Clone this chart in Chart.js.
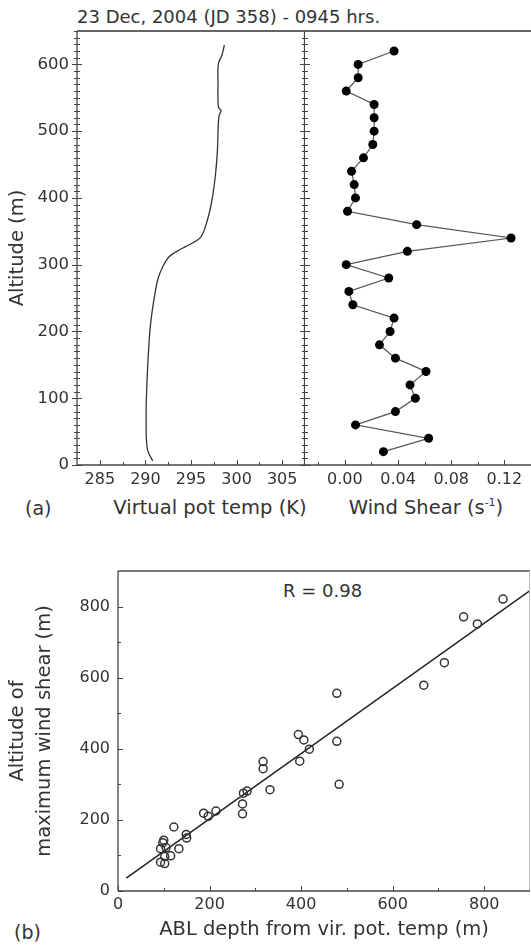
<!DOCTYPE html>
<html>
<head>
<meta charset="utf-8">
<script src="https://cdn.jsdelivr.net/npm/chart.js@4.4.1/dist/chart.umd.min.js"></script>
<style>
  body { margin: 0; background: #fff; width: 531px; height: 946px; position: relative; overflow: hidden;
         font-family: "DejaVu Sans", Verdana, sans-serif; color: #333; }
  .box { position: absolute; }
  .txt { position: absolute; white-space: nowrap; font-size: 18px; line-height: 18px; }
  .ax { position: absolute; white-space: nowrap; font-size: 19.5px; line-height: 20px; transform: translateX(-50%); }
  .ax sup { font-size: 11px; line-height: 0; vertical-align: 8px; }
</style>
</head>
<body>
<div class="txt" style="left:77px; top:8px;">23 Dec, 2004 (JD 358) - 0945 hrs.</div>
<div class="txt" style="left:25px; top:499px; font-size:19px;">(a)</div>
<div class="ax" style="left:210px; top:498px;">Virtual pot temp (K)</div>
<div class="ax" style="left:426px; top:498px;">Wind Shear (s<sup>-1</sup>)</div>
<div class="txt" style="left:14px; top:923px; font-size:19px;">(b)</div>
<div class="txt" style="left:283px; top:582px;">R = 0.98</div>

<div class="box" style="left:0; top:0; width:305px; height:530px;"><canvas id="tempChart"></canvas></div>
<div class="box" style="left:305px; top:0; width:226px; height:530px;"><canvas id="shearChart"></canvas></div>
<div class="box" style="left:0; top:540px; width:531px; height:406px;"><canvas id="ablChart"></canvas></div>

<script>
// (a) virtual potential temperature profile
const tempAlt = [6, 22, 42, 70, 97, 147, 202, 242, 277, 297, 312, 322, 327, 341, 367, 397, 437, 472, 512, 524, 531, 536, 571, 601, 614, 629];
const tempK = [290.8, 290.25, 290.1, 290.08, 290.1, 290.25, 290.5, 290.87, 291.34, 291.9, 292.6, 293.7, 294.4, 296.05, 296.8, 297.3, 297.7, 297.9, 298.0, 298.1, 298.3, 298.0, 297.96, 298.0, 298.4, 298.66];

// (a) wind shear profile
const shearAlt = [20, 40, 60, 80, 100, 120, 140, 160, 180, 200, 220, 240, 260, 280, 300, 320,
                  340, 360, 380, 400, 420, 440, 460, 480, 500, 520, 540, 560, 580, 600, 620];
const shear = [0.029, 0.063, 0.008, 0.038, 0.053, 0.049, 0.061, 0.038, 0.026, 0.034, 0.037, 0.006, 0.003, 0.033, 0.001, 0.047,
               0.125, 0.054, 0.002, 0.008, 0.007, 0.005, 0.014, 0.021, 0.022, 0.022, 0.022, 0.001, 0.010, 0.010, 0.037];

// (b) ABL depth vs altitude of max wind shear
const ablDepth = [93, 102, 102, 115, 93, 105, 98, 100, 133, 122, 149, 150, 187, 197, 214, 272, 272, 274, 282,
                  317, 317, 332, 397, 394, 406, 418, 478, 478, 483, 668, 713, 755, 785, 841];
const maxShearAlt = [81, 77, 97, 99, 119, 122, 136, 143, 119, 180, 159, 149, 219, 210, 225, 217, 245, 275, 281,
                     364, 344, 285, 365, 440, 425, 399, 556, 421, 300, 579, 642, 771, 751, 821];
const fitX = [18, 900];
const fitY = [36, 845];

// tick labels
const altTicks = [0, 100, 200, 300, 400, 500, 600];
const tempTicks = [285, 290, 295, 300, 305];
const shearTicks = [0, 0.04, 0.08, 0.12];
const ablTicks = [0, 200, 400, 600, 800];

function range(a, b, step) {
  const out = [];
  for (let v = a; v <= b + 1e-9; v += step) out.push(+v.toFixed(4));
  return out;
}

const font = { family: "'DejaVu Sans', Verdana, sans-serif", size: 16 };
const yFont = { family: "'DejaVu Sans', Verdana, sans-serif", size: 16.5 };
const titleFont = { family: "'DejaVu Sans', Verdana, sans-serif", size: 19.5 };
const ink = '#333';

// keep plot areas exactly where the axes are in the picture
const fixX = h => s => { s.height = h; s.paddingLeft = 0; s.paddingRight = 0; };
const fixY = w => s => { s.width = w; s.paddingTop = 0; s.paddingBottom = 0; };

// frame lines and small tick marks, placed through the chart scales
const frameTicks = {
  id: 'frameTicks',
  afterDatasetsDraw(chart, args, opts) {
    const { ctx, chartArea: a } = chart;
    ctx.save();
    ctx.strokeStyle = '#444';
    ctx.lineWidth = 1;
    for (const t of opts.ticks || []) {
      const sc = chart.scales[t.scale];
      ctx.beginPath();
      for (const v of t.values) {
        const p = Math.round(sc.getPixelForValue(v)) + 0.5;
        if (t.edge === 'left') { ctx.moveTo(a.left - t.out, p); ctx.lineTo(a.left + t.in, p); }
        if (t.edge === 'right') { ctx.moveTo(a.right + t.out, p); ctx.lineTo(a.right - t.in, p); }
        if (t.edge === 'bottom') { ctx.moveTo(p, a.bottom + t.out); ctx.lineTo(p, a.bottom - t.in); }
      }
      ctx.stroke();
    }
    for (const s of opts.sides || []) {
      ctx.strokeStyle = s.color;
      ctx.lineWidth = s.width;
      ctx.beginPath();
      if (s.side === 'top') { ctx.moveTo(a.left, a.top); ctx.lineTo(a.right, a.top); }
      if (s.side === 'bottom') { ctx.moveTo(a.left, a.bottom); ctx.lineTo(a.right, a.bottom); }
      if (s.side === 'left') { ctx.moveTo(a.left, a.top); ctx.lineTo(a.left, a.bottom); }
      if (s.side === 'right') { ctx.moveTo(a.right - 0.5, a.top); ctx.lineTo(a.right - 0.5, a.bottom); }
      ctx.stroke();
    }
    ctx.restore();
  }
};

const base = {
  responsive: true,
  maintainAspectRatio: false,
  animation: false,
  events: [],
  plugins: { legend: { display: false }, tooltip: { enabled: false } }
};

// left panel: temperature
new Chart(document.getElementById('tempChart'), {
  type: 'line',
  data: {
    datasets: [{
      data: tempK.map((t, i) => ({ x: t, y: tempAlt[i] })),
      borderColor: '#333', borderWidth: 1.3, pointRadius: 0, tension: 0.3, fill: false
    }]
  },
  options: {
    ...base,
    layout: { autoPadding: false, padding: { top: 31, left: 0, right: 0, bottom: 0 } },
    scales: {
      x: {
        type: 'linear', min: 282.5, max: 307.5,
        afterBuildTicks: s => { s.ticks = tempTicks.map(v => ({ value: v })); },
        afterFit: fixX(65),
        ticks: { font, color: ink, padding: 5, maxRotation: 0, autoSkip: false },
        grid: { display: false, drawTicks: false },
        border: { display: false }
      },
      y: {
        type: 'linear', min: 0, max: 650,
        afterBuildTicks: s => { s.ticks = altTicks.map(v => ({ value: v })); },
        afterFit: fixY(77),
        ticks: { font: yFont, color: ink, padding: 8, autoSkip: false },
        grid: { display: false, drawTicks: false },
        border: { display: false },
        title: { display: true, text: 'Altitude (m)', font: titleFont, color: ink, padding: { top: 6, bottom: 0 } }
      }
    },
    plugins: {
      ...base.plugins,
      frameTicks: {
        ticks: [
          { scale: 'y', values: range(0, 650, 10), edge: 'left', in: 3, out: 3 },
          { scale: 'y', values: altTicks, edge: 'left', in: 5, out: 5 },
          { scale: 'y', values: range(0, 650, 10), edge: 'right', in: 3, out: 0 },
          { scale: 'y', values: altTicks, edge: 'right', in: 5, out: 0 },
          { scale: 'x', values: tempTicks, edge: 'bottom', in: 5, out: 0 },
          { scale: 'x', values: range(287.5, 302.5, 5), edge: 'bottom', in: 3, out: 0 }
        ],
        sides: [
          { side: 'top', color: '#666', width: 2 },
          { side: 'left', color: '#444', width: 1.3 },
          { side: 'bottom', color: '#444', width: 1.3 },
          { side: 'right', color: '#444', width: 1.3 }
        ]
      }
    }
  },
  plugins: [frameTicks]
});

// right panel: wind shear
new Chart(document.getElementById('shearChart'), {
  type: 'line',
  data: {
    datasets: [{
      data: shear.map((w, i) => ({ x: w, y: shearAlt[i] })),
      borderColor: '#555', borderWidth: 1.2, tension: 0, fill: false,
      pointRadius: 4.5, pointBackgroundColor: '#000', pointBorderColor: '#000', pointBorderWidth: 0
    }]
  },
  options: {
    ...base,
    layout: { autoPadding: false, padding: { top: 31, left: 0, right: 0, bottom: 0 } },
    scales: {
      x: {
        type: 'linear', min: -0.03, max: 0.14,
        afterBuildTicks: s => { s.ticks = shearTicks.map(v => ({ value: v })); },
        afterFit: fixX(65),
        ticks: { font, color: ink, padding: 5, maxRotation: 0, autoSkip: false, callback: v => v.toFixed(2) },
        grid: { display: false, drawTicks: false },
        border: { display: false }
      },
      y: { type: 'linear', min: 0, max: 650, display: false }
    },
    plugins: {
      ...base.plugins,
      frameTicks: {
        ticks: [
          { scale: 'y', values: range(0, 650, 10), edge: 'left', in: 3, out: 0 },
          { scale: 'y', values: altTicks, edge: 'left', in: 5, out: 0 },
          { scale: 'x', values: shearTicks, edge: 'bottom', in: 5, out: 0 },
          { scale: 'x', values: [-0.02, 0.02, 0.06, 0.10], edge: 'bottom', in: 3, out: 0 }
        ],
        sides: [
          { side: 'top', color: '#666', width: 2 },
          { side: 'bottom', color: '#444', width: 1.3 }
        ]
      }
    }
  },
  plugins: [frameTicks]
});

// (b) scatter with fit
new Chart(document.getElementById('ablChart'), {
  type: 'scatter',
  data: {
    datasets: [
      {
        data: ablDepth.map((d, i) => ({ x: d, y: maxShearAlt[i] })),
        pointRadius: 4, pointBorderWidth: 1.5, pointBorderColor: '#333', pointBackgroundColor: 'rgba(255,255,255,0)'
      },
      {
        data: fitX.map((d, i) => ({ x: d, y: fitY[i] })),
        showLine: true, borderColor: '#222', borderWidth: 1.5, pointRadius: 0
      }
    ]
  },
  options: {
    ...base,
    layout: { autoPadding: false, padding: { top: 31, left: 0, right: 1, bottom: 0 } },
    scales: {
      x: {
        type: 'linear', min: 0, max: 900,
        afterBuildTicks: s => { s.ticks = ablTicks.map(v => ({ value: v })); },
        afterFit: fixX(55),
        ticks: { font, color: ink, padding: 4, maxRotation: 0, autoSkip: false },
        grid: { display: false, drawTicks: false },
        border: { display: false },
        title: { display: true, text: 'ABL depth from vir. pot. temp (m)', font: titleFont, color: ink, padding: { top: 0, bottom: 4 } }
      },
      y: {
        type: 'linear', min: 0, max: 900,
        afterBuildTicks: s => { s.ticks = ablTicks.map(v => ({ value: v })); },
        afterFit: fixY(118),
        ticks: { font, color: ink, padding: 8, autoSkip: false },
        grid: { display: false, drawTicks: false },
        border: { display: false },
        title: {
          display: true, text: ['Altitude of', 'maximum wind shear (m)'],
          font: { ...titleFont, lineHeight: 1.385 }, color: ink, padding: { top: 4.5, bottom: 0 }
        }
      }
    },
    plugins: {
      ...base.plugins,
      frameTicks: {
        ticks: [
          { scale: 'x', values: ablTicks, edge: 'bottom', in: 5, out: 0 },
          { scale: 'x', values: [100, 300, 500, 700], edge: 'bottom', in: 3, out: 0 },
          { scale: 'y', values: ablTicks, edge: 'left', in: 5, out: 0 },
          { scale: 'y', values: [100, 300, 500, 700], edge: 'left', in: 3, out: 0 }
        ],
        sides: [
          { side: 'top', color: '#777', width: 2 },
          { side: 'right', color: '#bbb', width: 1 },
          { side: 'left', color: '#444', width: 1.3 },
          { side: 'bottom', color: '#444', width: 1.3 }
        ]
      }
    }
  },
  plugins: [frameTicks]
});
</script>
</body>
</html>
